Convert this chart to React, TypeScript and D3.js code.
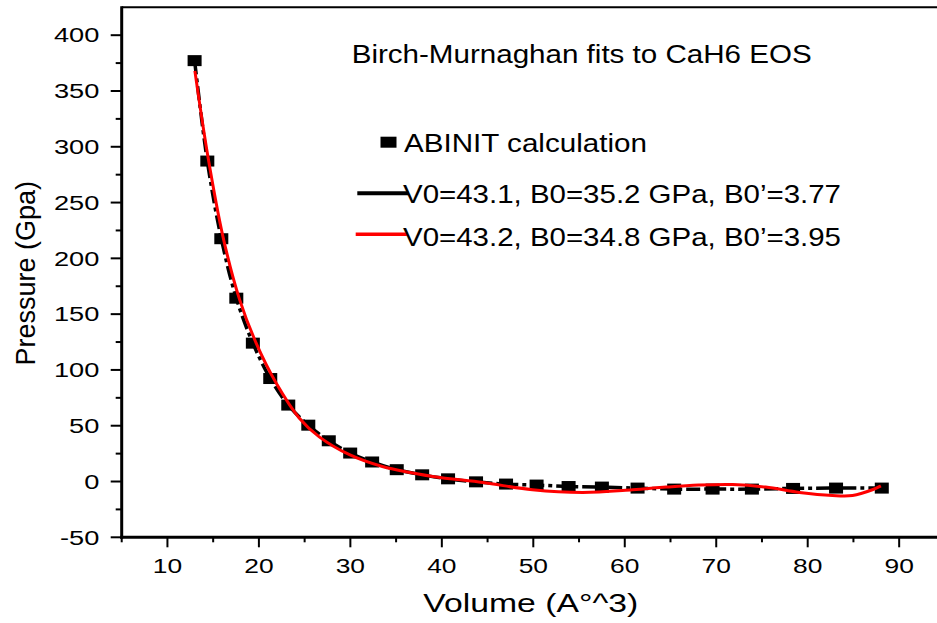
import React from "react";
import * as d3 from "d3";

const volumes = [12.97, 14.36, 15.89, 17.53, 19.34, 21.24, 23.21, 25.4, 27.64, 29.98, 32.38, 35.07, 37.85, 40.68, 43.74, 47.02, 50.36, 53.86, 57.5, 61.4, 65.4, 69.6, 73.9, 78.4, 83.1, 88.1];
const pressures = [377.2, 287.2, 217.6, 164.3, 124.0, 92.3, 68.5, 50.5, 36.5, 25.5, 17.5, 10.6, 6.0, 2.4, -0.3, -2.3, -3.2, -4.5, -5.0, -5.9, -6.8, -6.8, -6.8, -6.2, -5.9, -5.9];

const fitVolumes = [13.0, 14.43, 16.07, 17.9, 19.7, 21.9, 24.4, 26.6, 29.9, 33.5, 39.0, 44.5, 49.9, 55.4, 60.85, 64.5, 68.1, 71.8, 75.4, 79.1, 82.7, 84.9, 87.07, 88.0];
const fitPressures = [368, 291, 219.5, 162.8, 124, 88, 57, 40, 24, 13.4, 4.5, -0.9, -7.4, -9.8, -7.4, -5.0, -3.2, -2.7, -5.0, -9.8, -12.5, -12.5, -7.4, -3.9];

const xTicks = [10, 20, 30, 40, 50, 60, 70, 80, 90];
const xMinor = [5, 15, 25, 35, 45, 55, 65, 75, 85, 95];
const yTicks = [-50, 0, 50, 100, 150, 200, 250, 300, 350, 400];
const yMinor = [-25, 25, 75, 125, 175, 225, 275, 325, 375];

const title = "Birch-Murnaghan fits to CaH6 EOS";
const legendLabels = ["ABINIT calculation", "V0=43.1, B0=35.2 GPa, B0\u2019=3.77", "V0=43.2, B0=34.8 GPa, B0\u2019=3.95"];
const xLabel = "Volume (A\u00b0^3)";
const yLabel = "Pressure (Gpa)";

const FONT = "'Liberation Sans', Arial, Helvetica, sans-serif";

export default function App() {
  const W = 937, H = 623;
  const left = 121.7, right = 944.9, top = 7.3, bottom = 537.3;
  const x = d3.scaleLinear().domain([5, 95]).range([left, right]);
  const y = d3.scaleLinear().domain([-50, 425]).range([bottom, top]);

  const dataPts = volumes.map((v, i) => [v, pressures[i]] as [number, number]);
  const fitPts = fitVolumes.map((v, i) => [v, fitPressures[i]] as [number, number]);

  const line = d3.line<[number, number]>().x(d => x(d[0])).y(d => y(d[1])).curve(d3.curveCatmullRom.alpha(0.5));

  return (
    <svg width={W} height={H} style={{ position: "absolute", left: 0, top: 0, background: "#fff" }} fontFamily={FONT}>
      <rect x={0} y={0} width={W} height={H} fill="#fff" />
      <line x1={left} x2={right} y1={top} y2={top} stroke="#000" strokeWidth={2} />
      <line x1={right} x2={right} y1={top} y2={bottom} stroke="#000" strokeWidth={2} />
      {yTicks.map(t => (
        <g key={"yt" + t}>
          <line x1={left - 11} x2={left} y1={y(t)} y2={y(t)} stroke="#000" strokeWidth={2} />
          <text transform={`translate(${left - 22.4},${y(t) + 7.2}) scale(1.36,1)`} textAnchor="end" fontSize={20} fill="#000">{t}</text>
        </g>
      ))}
      {yMinor.map(t => (
        <line key={"ym" + t} x1={left - 6} x2={left} y1={y(t)} y2={y(t)} stroke="#000" strokeWidth={2} />
      ))}
      {xTicks.map(t => (
        <g key={"xt" + t}>
          <line x1={x(t)} x2={x(t)} y1={bottom} y2={bottom + 10} stroke="#000" strokeWidth={2} />
          <text transform={`translate(${x(t)},${573}) scale(1.32,1)`} textAnchor="middle" fontSize={20} fill="#000">{t}</text>
        </g>
      ))}
      {xMinor.map(t => (
        <line key={"xm" + t} x1={x(t)} x2={x(t)} y1={bottom} y2={bottom + 5} stroke="#000" strokeWidth={2} />
      ))}
      <line x1={left} x2={left} y1={top - 1} y2={bottom + 1.5} stroke="#000" strokeWidth={3} />
      <line x1={left - 1.5} x2={right} y1={bottom} y2={bottom} stroke="#000" strokeWidth={3} />

      <path d={line(dataPts) || ""} fill="none" stroke="#000" strokeWidth={3.5} strokeDasharray="14,4,4,4" />
      {dataPts.map((d, i) => (
        <rect key={"p" + i} x={x(d[0]) - 7} y={y(d[1]) - 5.5} width={14} height={11} fill="#000" />
      ))}
      <path d={line(fitPts) || ""} fill="none" stroke="#ff0000" strokeWidth={3} />

      <text x={351.7} y={62.7} fontSize={25} textLength={460} lengthAdjust="spacingAndGlyphs" fill="#000">{title}</text>
      <rect x={380.5} y={136.7} width={16} height={11} fill="#000" />
      <text x={404} y={152.3} fontSize={25.6} textLength={243} lengthAdjust="spacingAndGlyphs" fill="#000">{legendLabels[0]}</text>
      <line x1={357.3} x2={408.3} y1={193.3} y2={193.3} stroke="#000" strokeWidth={4} />
      <text x={403} y={202.7} fontSize={26.5} textLength={438} lengthAdjust="spacingAndGlyphs" fill="#000">{legendLabels[1]}</text>
      <line x1={355.7} x2={407.3} y1={234.3} y2={234.3} stroke="#ff0000" strokeWidth={3.5} />
      <text x={403} y={246} fontSize={26.5} textLength={438} lengthAdjust="spacingAndGlyphs" fill="#000">{legendLabels[2]}</text>

      <text x={423.3} y={611.7} fontSize={25.6} textLength={215} lengthAdjust="spacingAndGlyphs" fill="#000">{xLabel}</text>
      <text transform={`translate(35,273.3) scale(1.05,1) rotate(-90)`} textAnchor="middle" fontSize={27} fill="#000">{yLabel}</text>
    </svg>
  );
}
